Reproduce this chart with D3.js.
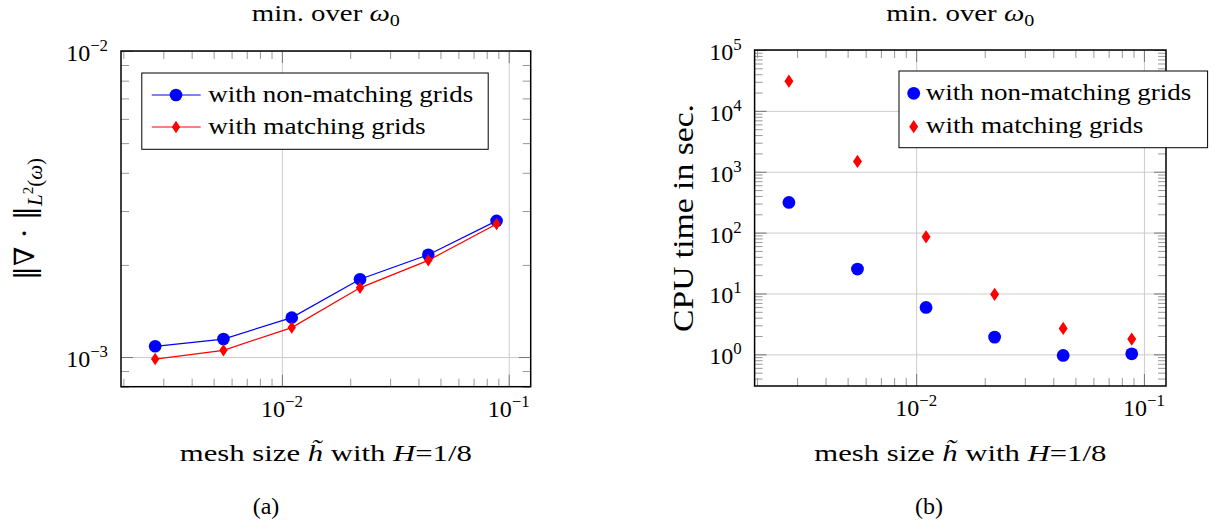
<!DOCTYPE html>
<html><head><meta charset="utf-8">
<script src="https://cdn.jsdelivr.net/npm/d3@7"></script>
<style>
body{margin:0;background:#fff}
svg{display:block}
</style>
</head><body>
<svg id="c" width="1216" height="529"></svg>
<script>
// ---------- data ----------
const meshSizes      = [0.002762, 0.005524, 0.01105, 0.0221, 0.0442, 0.0884];
const divNonMatching = [1.084e-3, 1.145e-3, 1.345e-3, 1.796e-3, 2.158e-3, 2.786e-3];
const divMatching    = [0.985e-3, 1.052e-3, 1.248e-3, 1.683e-3, 2.070e-3, 2.720e-3];
const cpuNonMatching = [313, 25.2, 5.9, 1.92, 0.96, 1.02];
const cpuMatching    = [30800, 1476, 85.3, 9.67, 2.67, 1.78];
const seriesNames    = ["with non-matching grids", "with matching grids"];
const xMajorTicks    = [1e-2, 1e-1];
const xTickExps      = ["\u22122", "\u22121"];
const yMajorTicksA   = [1e-3, 1e-2];
const yTickExpsA     = ["\u22123", "\u22122"];
const yMajorTicksB   = [1e0, 1e1, 1e2, 1e3, 1e4, 1e5];
const yTickExpsB     = ["0", "1", "2", "3", "4", "5"];
const subCaptions    = ["(a)", "(b)"];

const BLUE = "#0000ff", RED = "#ff0000";
const FONT = "'Liberation Serif', 'Times New Roman', serif";
const svg = d3.select("#c");
svg.append("rect").attr("width", 1216).attr("height", 529).attr("fill", "#fff");

function txt(parent) {
  return parent.append("text").style("font-family", FONT).attr("fill", "#000");
}

function rich(sel, segs, size) {
  let cur = 0;
  segs.forEach(s => {
    const shift = (s.shift || 0) * size;
    const ts = sel.append("tspan").text(s.t)
      .style("font-size", ((s.scale || 1) * size) + "px")
      .attr("dy", shift - cur);
    if (s.it) ts.style("font-style", "italic");
    if (s.font) ts.style("font-family", s.font);
    cur = shift;
  });
  return sel;
}

function panel(cfg) {
  const {left, right, top, bottom, xDomain, yDomain, yMajor, yExps} = cfg;
  const w = right - left, h = bottom - top;
  const g = svg.append("g").attr("transform", `translate(${left},${top})`);
  const x = d3.scaleLog().domain(xDomain).range([0, w]);
  const y = d3.scaleLog().domain(yDomain).range([h, 0]);
  const isMajor = (arr, v) => arr.some(m => Math.abs(m - v) / m < 1e-9);
  const xMinor = x.ticks().filter(v => !isMajor(xMajorTicks, v) && v >= xDomain[0] && v <= xDomain[1]);
  const yMinor = y.ticks().filter(v => !isMajor(yMajor, v) && v >= yDomain[0] && v <= yDomain[1]);

  // grid
  const gx = g.append("g").attr("transform", `translate(0,${h})`)
    .call(d3.axisBottom(x).tickValues(xMajorTicks).tickSize(-h).tickFormat(""));
  const gy = g.append("g")
    .call(d3.axisLeft(y).tickValues(yMajor).tickSize(-w).tickFormat(""));
  [gx, gy].forEach(a => { a.select(".domain").remove(); a.selectAll("line").attr("stroke", "#cccccc").attr("stroke-width", 1); });

  // ticks (inside, mirrored)
  function ticks(axis, vals, len, tr, col) {
    const a = g.append("g").attr("transform", tr)
      .call(axis.tickValues(vals).tickSize(-len).tickFormat(""));
    a.select(".domain").remove();
    a.selectAll("line").attr("stroke", col).attr("stroke-width", 1);
  }
  [[xMajorTicks, 12, "#777"], [xMinor, 8, "#999"]].forEach(([v, l, c]) => {
    ticks(d3.axisBottom(x), v, l, `translate(0,${h})`, c);
    ticks(d3.axisTop(x), v, l, `translate(0,0)`, c);
  });
  [[yMajor, 12, "#777"], [yMinor, 8, "#999"]].forEach(([v, l, c]) => {
    ticks(d3.axisLeft(y), v, l, `translate(0,0)`, c);
    ticks(d3.axisRight(y), v, l, `translate(${w},0)`, c);
  });

  g.append("rect").attr("width", w).attr("height", h)
    .attr("fill", "none").attr("stroke", "#000").attr("stroke-width", 1.5);

  // tick labels
  xMajorTicks.forEach((v, i) => {
    rich(txt(g).attr("x", x(v)).attr("y", h + 30).attr("text-anchor", "middle"),
      [{t: "10"}, {t: xTickExps[i], shift: -0.42, scale: 0.7}], 24);
  });
  yMajor.forEach((v, i) => {
    rich(txt(g).attr("x", -13).attr("y", y(v) + 10).attr("text-anchor", "end"),
      [{t: "10"}, {t: yExps[i], shift: -0.42, scale: 0.7}], 24);
  });

  // title
  rich(txt(g).attr("x", w / 2).attr("y", 21 - top).attr("text-anchor", "middle")
    .attr("textLength", 148).attr("lengthAdjust", "spacingAndGlyphs"),
    [{t: "min. over "}, {t: "\u03c9", it: true}, {t: "0", shift: 0.22, scale: 0.7}], 24);

  // x label
  rich(txt(g).attr("x", w / 2).attr("y", 461 - top).attr("text-anchor", "middle")
    .attr("textLength", 292).attr("lengthAdjust", "spacingAndGlyphs"),
    [{t: "mesh size "}, {t: "h\u0303", it: true}, {t: " with "}, {t: "H", it: true}, {t: "=1/8"}], 24);

  return {g, x, y, w, h};
}

const diamond = (cx, cy, hw, hh) => `M${cx},${cy - hh}L${cx + hw},${cy}L${cx},${cy + hh}L${cx - hw},${cy}Z`;

// ---------- panel (a) ----------
const A = panel({left: 121, right: 530.7, top: 51, bottom: 386.7,
  xDomain: [Math.pow(10, -2.7094), Math.pow(10, -0.9031)], yDomain: [8e-4, 1e-2],
  yMajor: yMajorTicksA, yExps: yTickExpsA});

const lineA = vals => d3.line().x((d, i) => A.x(meshSizes[i])).y(d => A.y(d))(vals);
A.g.append("path").attr("d", lineA(divNonMatching)).attr("fill", "none").attr("stroke", BLUE).attr("stroke-width", 1.2);
A.g.selectAll(".cA").data(divNonMatching).enter().append("circle")
  .attr("cx", (d, i) => A.x(meshSizes[i])).attr("cy", d => A.y(d)).attr("r", 6.3).attr("fill", BLUE);
A.g.append("path").attr("d", lineA(divMatching)).attr("fill", "none").attr("stroke", RED).attr("stroke-width", 1.2);
A.g.selectAll(".dA").data(divMatching).enter().append("path")
  .attr("d", (d, i) => diamond(A.x(meshSizes[i]), A.y(d), 4.2, 6.2)).attr("fill", RED);

// y label (a)
rich(txt(svg).attr("transform", "translate(34,219) rotate(-90)").attr("text-anchor", "middle"),
  [{t: "\u2016\u2207 \u00b7 \u2016", font: "'DejaVu Serif', serif", scale: 0.93},
   {t: "L", it: true, shift: 0.28, scale: 0.7}, {t: "2", shift: -0.02, scale: 0.5},
   {t: "(", shift: 0.28, scale: 0.7}, {t: "\u03c9", it: true, shift: 0.28, scale: 0.7}, {t: ")", shift: 0.28, scale: 0.7}], 30);

// legend (a)
svg.append("rect").attr("x", 141.8).attr("y", 73).attr("width", 346.4).attr("height", 76.3)
  .attr("fill", "#fff").attr("stroke", "#000").attr("stroke-width", 1);
[[BLUE, 95, "c"], [RED, 127, "d"]].forEach(([col, cy, m], i) => {
  svg.append("line").attr("x1", 151.8).attr("x2", 200.7).attr("y1", cy).attr("y2", cy).attr("stroke", col).attr("stroke-width", 1.2);
  if (m === "c") svg.append("circle").attr("cx", 176).attr("cy", cy).attr("r", 6.3).attr("fill", col);
  else svg.append("path").attr("d", diamond(176, cy, 4.2, 6.2)).attr("fill", col);
  txt(svg).attr("x", 208.2).attr("y", cy + 6.5).style("font-size", "24px")
    .attr("textLength", i === 0 ? 265 : 217.5).attr("lengthAdjust", "spacingAndGlyphs").text(seriesNames[i]);
});

// ---------- panel (b) ----------
const B = panel({left: 754.6, right: 1166, top: 50, bottom: 386,
  xDomain: [Math.pow(10, -2.7094), Math.pow(10, -0.9031)], yDomain: [Math.pow(10, -0.52), 1e5],
  yMajor: yMajorTicksB, yExps: yTickExpsB});

B.g.selectAll(".cB").data(cpuNonMatching).enter().append("circle")
  .attr("cx", (d, i) => B.x(meshSizes[i])).attr("cy", d => B.y(d)).attr("r", 6.4).attr("fill", BLUE);
B.g.selectAll(".dB").data(cpuMatching).enter().append("path")
  .attr("d", (d, i) => diamond(B.x(meshSizes[i]), B.y(d), 4.5, 6.6)).attr("fill", RED);

txt(svg).attr("transform", "translate(693,218) rotate(-90)").attr("text-anchor", "middle")
  .style("font-size", "29px").attr("textLength", 228).attr("lengthAdjust", "spacingAndGlyphs").text("CPU time in sec.");

// legend (b)
svg.append("rect").attr("x", 899).attr("y", 71).attr("width", 308.6).attr("height", 76.7)
  .attr("fill", "#fff").attr("stroke", "#000").attr("stroke-width", 1);
svg.append("circle").attr("cx", 913.7).attr("cy", 93.3).attr("r", 6.4).attr("fill", BLUE);
svg.append("path").attr("d", diamond(913.7, 126.7, 4.5, 6.6)).attr("fill", RED);
[[93.3, 265.5], [126.7, 217.5]].forEach(([cy, tl], i) => {
  txt(svg).attr("x", 925.8).attr("y", cy + 6.5).style("font-size", "24px")
    .attr("textLength", tl).attr("lengthAdjust", "spacingAndGlyphs").text(seriesNames[i]);
});

// sub captions
[[266, 0], [929, 1]].forEach(([cx, i]) => {
  txt(svg).attr("x", cx).attr("y", 514).attr("text-anchor", "middle").style("font-size", "24px").text(subCaptions[i]);
});
</script>
</body></html>
